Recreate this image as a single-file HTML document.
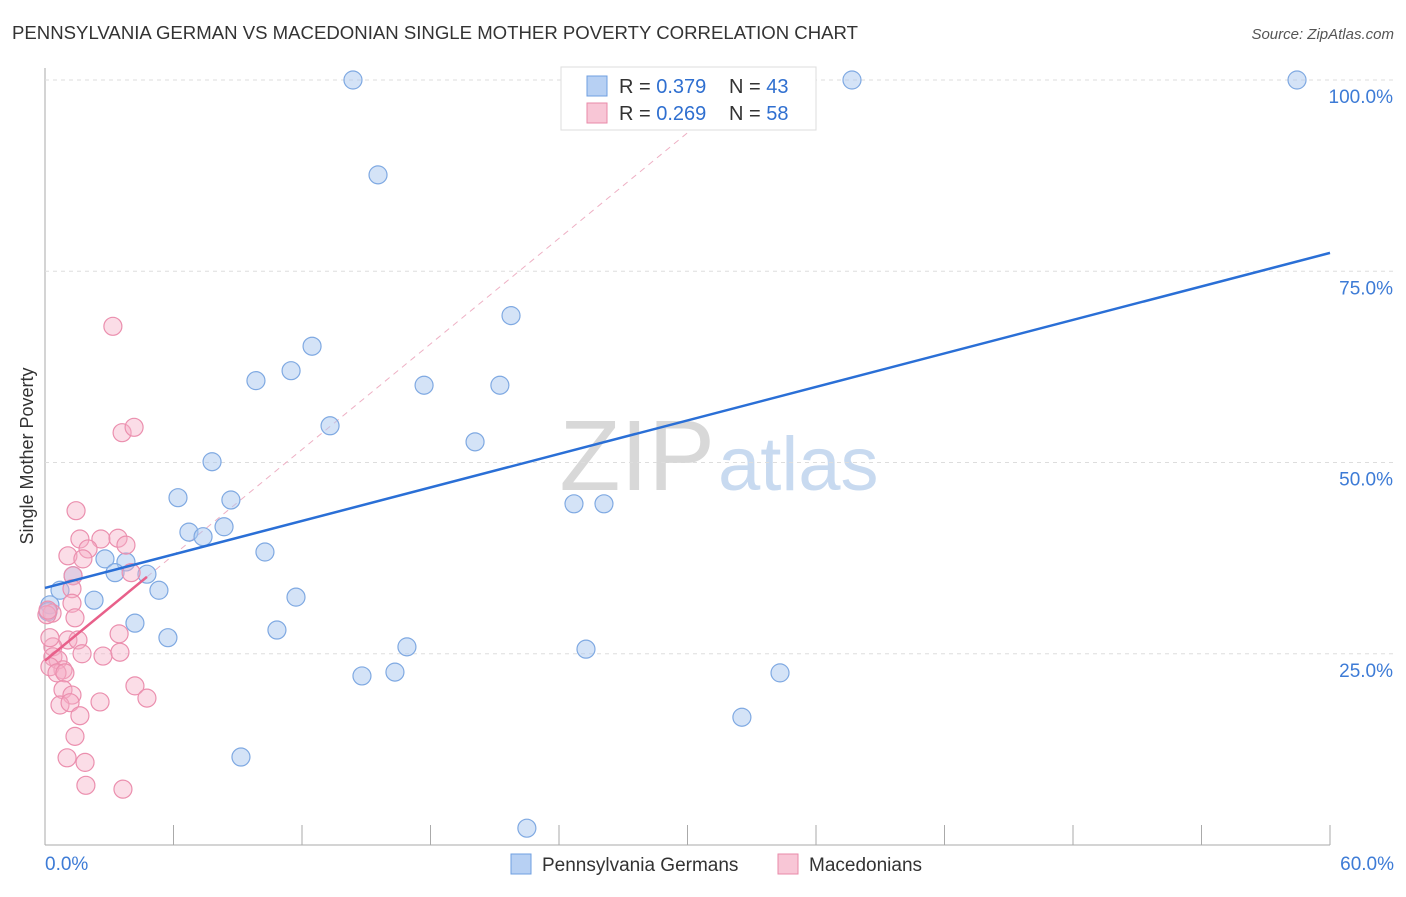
<!DOCTYPE html>
<html><head><meta charset="utf-8"><style>
body{margin:0;background:#fff;font-family:"Liberation Sans",sans-serif}
svg text{font-family:"Liberation Sans",sans-serif}
</style></head><body>
<svg width="1406" height="892" id="c">
<text x="12" y="39" font-size="18" fill="#333" textLength="846" lengthAdjust="spacingAndGlyphs">PENNSYLVANIA GERMAN VS MACEDONIAN SINGLE MOTHER POVERTY CORRELATION CHART</text>
<text x="1394" y="39" font-size="15" fill="#555" text-anchor="end" font-style="italic">Source: ZipAtlas.com</text>
<text x="33" y="456" font-size="18" fill="#333" text-anchor="middle" transform="rotate(-90 33 456)">Single Mother Poverty</text>
<text x="715" y="490" font-size="100" fill="#d8d8d8" text-anchor="end" font-family="Liberation Serif">ZIP</text>
<text x="718" y="490" font-size="76" fill="#c8daf0">atlas</text>
<g id="grid"></g><g id="marks"></g>
<g>
<rect x="561" y="67" width="255" height="63" fill="#fff" stroke="#ddd"/>
<rect x="587" y="76" width="20" height="20" fill="#b7d0f3" stroke="#6f9fe0"/>
<text x="619" y="93" font-size="20" fill="#333">R = <tspan fill="#2f6fd0">0.379</tspan></text>
<text x="729" y="93" font-size="20" fill="#333">N = <tspan fill="#2f6fd0">43</tspan></text>
<rect x="587" y="103" width="20" height="20" fill="#f8c6d6" stroke="#e98aa8"/>
<text x="619" y="120" font-size="20" fill="#333">R = <tspan fill="#2f6fd0">0.269</tspan></text>
<text x="729" y="120" font-size="20" fill="#333">N = <tspan fill="#2f6fd0">58</tspan></text>
</g>
<g>
<rect x="511" y="854" width="20" height="20" fill="#b7d0f3" stroke="#6f9fe0"/>
<text x="542" y="871" font-size="19" fill="#333">Pennsylvania Germans</text>
<rect x="778" y="854" width="20" height="20" fill="#f8c6d6" stroke="#e98aa8"/>
<text x="809" y="871" font-size="19" fill="#333">Macedonians</text>
</g>
</svg>
<script>
const xTicks=[0,6,12,18,24,30,36,42,48,54,60];
const yTicks=[25,50,75,100];
const blueX=[14.38,37.68,58.46,15.55,21.76,12.47,9.85,11.49,17.70,21.24,13.31,20.08,7.80,6.21,8.68,24.70,26.10,6.72,7.38,8.36,10.27,2.80,3.78,3.27,4.76,1.31,5.32,0.70,2.29,11.72,0.23,4.20,5.74,10.83,16.90,25.26,14.80,16.34,34.32,32.54,9.15,22.50,0.14];
const blueY=[100,100,100,87.6,69.2,65.2,60.7,62.0,60.1,60.1,54.8,52.7,50.1,45.4,45.1,44.6,44.6,40.9,40.3,41.6,38.3,37.4,37.0,35.6,35.4,35.2,33.3,33.3,32.0,32.4,31.4,29.0,27.1,28.1,25.9,25.6,22.1,22.6,22.5,16.7,11.5,2.2,30.5];
const pinkX=[3.17,3.60,4.16,1.45,1.63,2.61,3.41,3.78,2.01,1.07,1.77,1.31,4.02,1.26,1.26,0.33,1.40,3.46,1.07,1.54,0.37,1.73,2.71,3.50,0.37,0.61,0.84,0.23,0.56,0.93,4.20,4.76,0.84,1.26,2.57,0.70,1.17,1.63,1.40,1.03,1.87,1.91,3.64,0.23,0.09,0.14];
const pinkY=[67.8,53.9,54.6,43.7,40.0,40.0,40.1,39.2,38.7,37.8,37.4,35.2,35.6,33.5,31.6,30.3,29.7,27.6,26.8,26.8,25.9,25.0,24.7,25.2,24.6,24.2,22.9,23.3,22.5,22.5,20.8,19.2,20.3,19.6,18.7,18.3,18.6,16.9,14.2,11.4,10.8,7.8,7.3,27.1,30.1,30.7];
const blueTrend=[33.6,77.4];   // y at x=0, x=60
const pinkTrend=[24.1,2.3];    // intercept, slope
const NS='http://www.w3.org/2000/svg';
const X=v=>45+v/60*1285, Y=v=>845-v/100*765;
function mk(t,a,p){const e=document.createElementNS(NS,t);for(const k in a)e.setAttribute(k,a[k]);p.appendChild(e);return e;}
const g=document.getElementById('grid'), m=document.getElementById('marks');
let e=mk('line',{x1:45,y1:68,x2:45,y2:845,stroke:'#aaa'},g);


e=mk('line',{x1:45,y1:845,x2:1330,y2:845,stroke:'#aaa'},g);


yTicks.forEach(t=>{
 e=mk('line',{x1:45,y1:Y(t),x2:1394,y2:Y(t),stroke:'#ddd','stroke-dasharray':'4,4'},g);
 
 
 e=mk('text',{x:1393,y:Y(t)+23,'font-size':19,fill:'#3d7bd6','text-anchor':'end'},g);
 e.textContent=t.toFixed(1)+'%';
 
 
});
xTicks.forEach(t=>{
 e=mk('line',{x1:X(t),y1:825,x2:X(t),y2:845,stroke:'#aaa'},g);
 
 
});
[[0,'start',45],[60,'end',1394]].forEach(([t,a,x])=>{
 e=mk('text',{x:x,y:870,'font-size':19,fill:'#3d7bd6','text-anchor':a},g);
 e.textContent=t.toFixed(1)+'%';
 
 
});
const pxEnd=(94-pinkTrend[0])/pinkTrend[1];
e=mk('line',{x1:X(0),y1:Y(pinkTrend[0]),x2:X(pxEnd),y2:Y(94),stroke:'#eeb0c4','stroke-dasharray':'6,5'},m);


blueX.forEach((v,i)=>{
 e=mk('circle',{cx:X(v),cy:Y(blueY[i]),r:9,fill:'rgba(170,200,240,0.5)',stroke:'#7fa9e2','stroke-width':1.2},m);
 
 
});
pinkX.forEach((v,i)=>{
 e=mk('circle',{cx:X(v),cy:Y(pinkY[i]),r:9,fill:'rgba(246,175,198,0.42)',stroke:'#eb8fae','stroke-width':1.2},m);
 
 
});
e=mk('line',{x1:X(0),y1:Y(blueTrend[0]),x2:X(60),y2:Y(blueTrend[1]),stroke:'#2a6fd6','stroke-width':2.5},m);


const pmax=Math.max(...pinkX);
e=mk('line',{x1:X(0),y1:Y(pinkTrend[0]),x2:X(pmax),y2:Y(pinkTrend[0]+pinkTrend[1]*pmax),stroke:'#e8608a','stroke-width':2.5},m);


</script>
</body></html>
